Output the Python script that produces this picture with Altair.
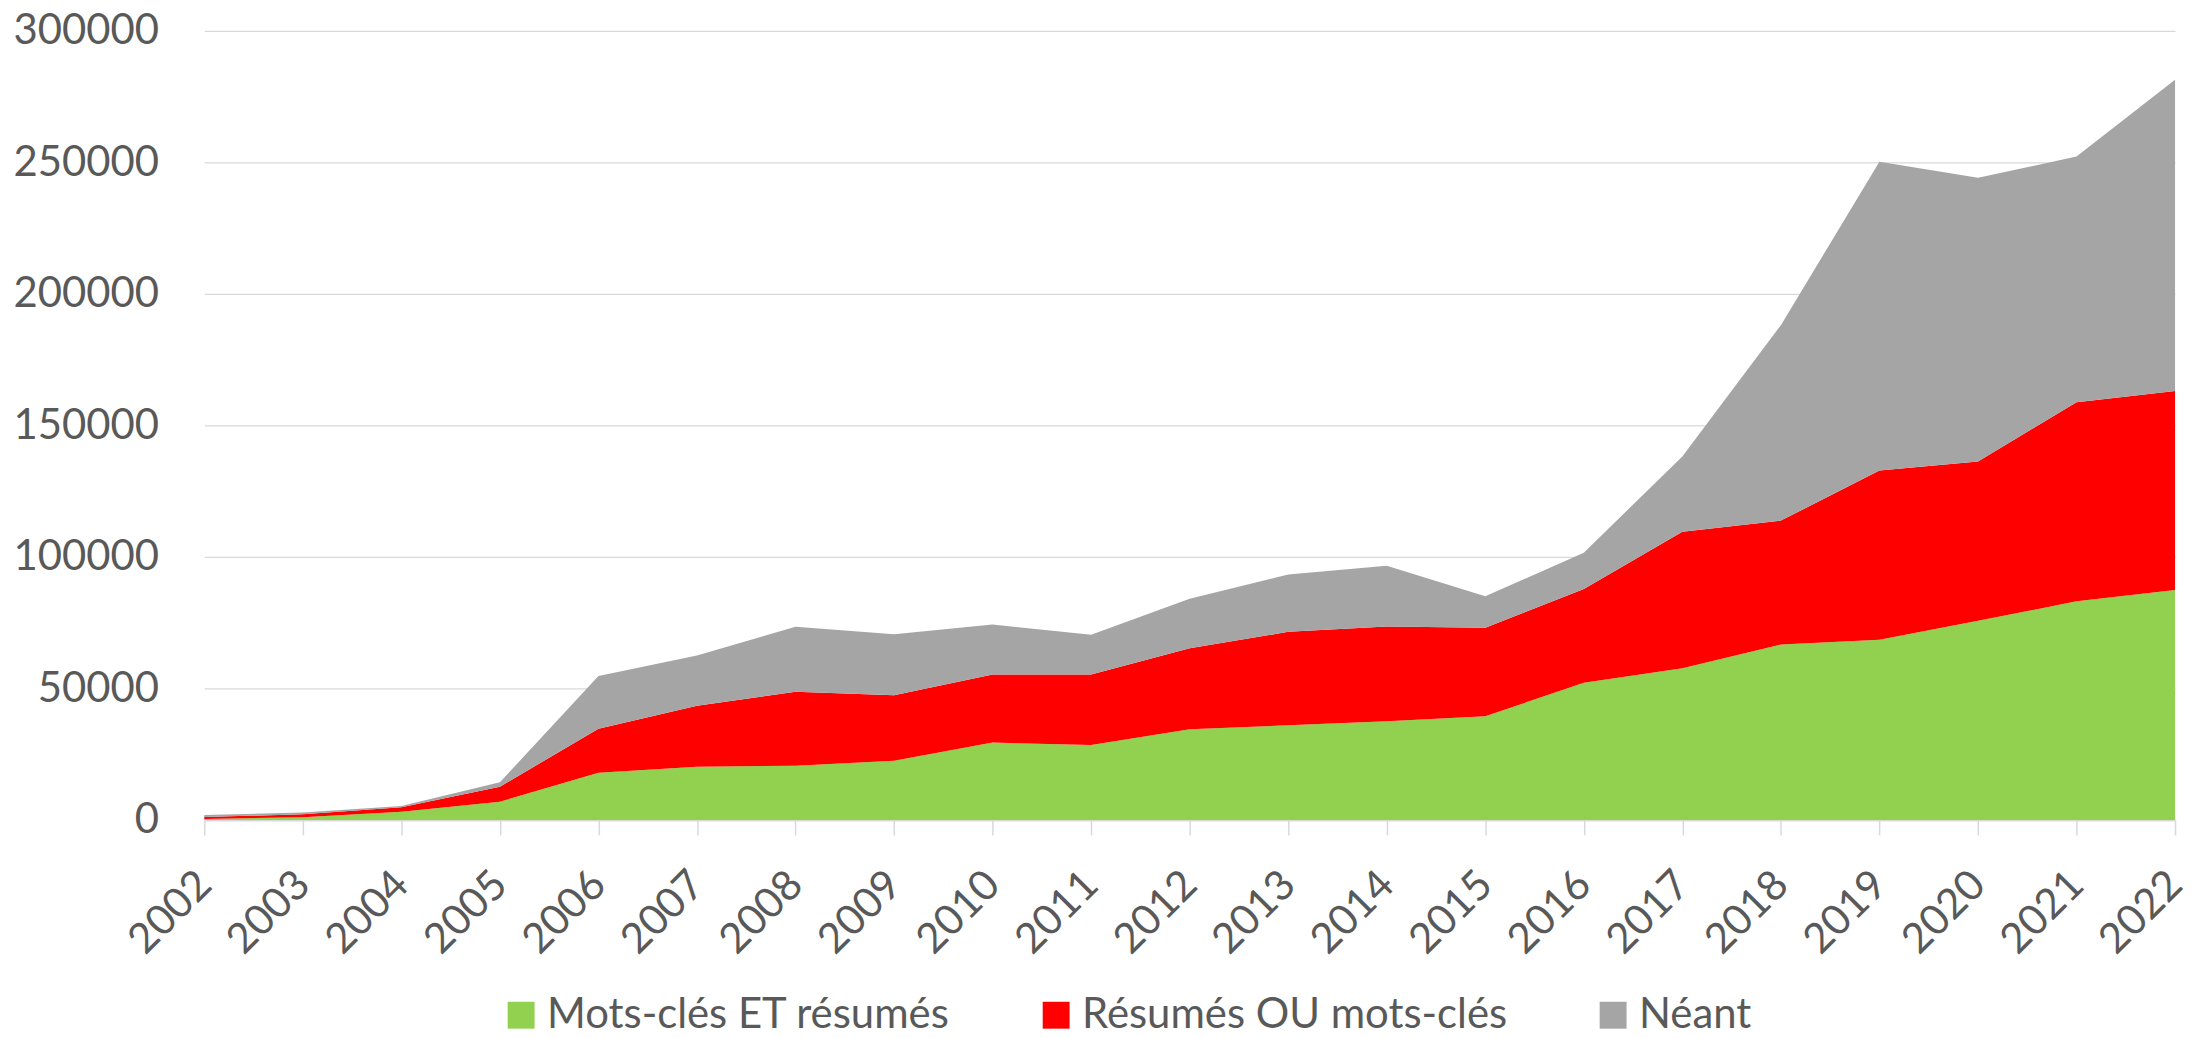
import altair as alt
import pandas as pd

years = [str(y) for y in range(2002, 2023)]
series = ["Mots-clés ET résumés", "Résumés OU mots-clés", "Néant"]
colors = ["#92D050", "#FF0000", "#A5A5A5"]

mots_et = [400, 1000, 3150, 6950, 17950, 20200, 20600, 22500, 29400, 28500, 34500,
           36000, 37500, 39400, 52200, 57700, 66700, 68500, 75700, 83100, 87400]
resumes_ou = [700, 1150, 1650, 5650, 16750, 23250, 28150, 24900, 25900, 26800, 30800,
              35500, 36000, 33700, 35600, 51900, 47100, 64300, 60600, 75700, 75700]
neant = [800, 650, 500, 1700, 20000, 19050, 24650, 23200, 19000, 15100, 18800,
         21800, 23100, 11900, 13800, 28600, 74300, 117400, 107800, 93400, 118300]

y_ticks = [0, 50000, 100000, 150000, 200000, 250000, 300000]

rows = []
for k, (name, vals) in enumerate(zip(series, [mots_et, resumes_ou, neant])):
    for i, yr in enumerate(years):
        rows.append({"Année": yr, "Série": name, "Valeur": vals[i], "ordre": k})
df = pd.DataFrame(rows)

FONT = "Lato"
TXT = "#595959"
GRID = "#D9D9D9"

chart = alt.Chart(df).mark_area(opacity=1, strokeWidth=0, interpolate="linear").encode(
    x=alt.X(
        "Année:O",
        scale=alt.Scale(type="point", padding=0),
        axis=alt.Axis(
            title=None, labelAngle=-45, labelAlign="right", labelBaseline="middle",
            labelFontSize=42, labelColor=TXT, labelFont=FONT,
            tickSize=15, tickColor=GRID, tickWidth=1.5,
            domainColor=GRID, domainWidth=2, labelPadding=43, grid=False,
        ),
    ),
    y=alt.Y(
        "Valeur:Q",
        stack="zero",
        scale=alt.Scale(domain=[0, 300000], nice=False),
        axis=alt.Axis(
            title=None, values=y_ticks, format="d", ticks=False, domain=False,
            gridColor=GRID, gridWidth=1.3, labelFontSize=42, labelColor=TXT,
            labelFont=FONT, labelPadding=46,
        ),
    ),
    color=alt.Color(
        "Série:N",
        scale=alt.Scale(domain=series, range=colors),
        legend=alt.Legend(
            title=None, orient="none", legendX=297, legendY=967,
            direction="horizontal", symbolType="square", symbolSize=729,
            labelFontSize=42, labelColor=TXT, labelFont=FONT, labelOffset=5,
            labelLimit=0, columnPadding=85, symbolStrokeWidth=0, symbolOpacity=1,
        ),
    ),
    order=alt.Order("ordre:Q", sort="ascending"),
).properties(
    width=1978,
    height=792,
    autosize=alt.AutoSizeParams(type="none"),
    padding={"left": 197, "top": 21, "right": 11, "bottom": 230},
).configure_view(stroke=None)

chart.save("out.html", embed_options={"renderer": "svg", "actions": False})
